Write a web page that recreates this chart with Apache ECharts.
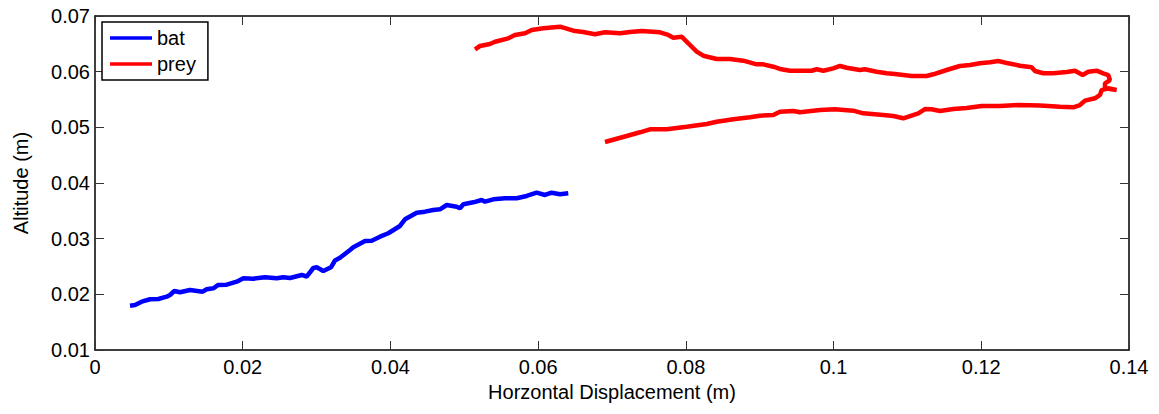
<!DOCTYPE html>
<html>
<head>
<meta charset="utf-8">
<script src="https://cdn.jsdelivr.net/npm/echarts@6/dist/echarts.min.js"></script>
<style>
  html, body { margin: 0; padding: 0; background: #fff; }
  #chart { width: 1159px; height: 414px; }
</style>
</head>
<body>
<div id="chart"></div>
<script>
// bat track (m)
var batX = [0.00474, 0.00542, 0.00632, 0.00745, 0.00857, 0.00971, 0.01015, 0.01074, 0.01151, 0.01286,
  0.01458, 0.01512, 0.01602, 0.01669, 0.01783, 0.01919, 0.02008, 0.02143, 0.02302, 0.0246,
  0.02549, 0.0264, 0.02799, 0.02866, 0.02956, 0.03002, 0.03091, 0.03195, 0.03249, 0.03317,
  0.03453, 0.03497, 0.03656, 0.03746, 0.03859, 0.03971, 0.04129, 0.04197, 0.04356, 0.04468,
  0.0458, 0.04671, 0.04762, 0.04897, 0.04942, 0.04987, 0.05122, 0.05236, 0.0528, 0.05393,
  0.05551, 0.0571, 0.05845, 0.0598, 0.06093, 0.06183, 0.06296, 0.06408];
var batY = [0.01796, 0.01809, 0.01868, 0.01911, 0.01917, 0.01958, 0.01988, 0.0206, 0.02037, 0.02078,
  0.02048, 0.02091, 0.02109, 0.02168, 0.02173, 0.02227, 0.02288, 0.02281, 0.02306, 0.02288,
  0.02306, 0.02294, 0.02348, 0.0232, 0.02473, 0.02486, 0.02419, 0.02486, 0.02608, 0.02657,
  0.02797, 0.02845, 0.02958, 0.02964, 0.03036, 0.03097, 0.03228, 0.03348, 0.03467, 0.03485,
  0.03515, 0.03527, 0.03605, 0.03575, 0.03546, 0.03618, 0.03653, 0.03695, 0.03664, 0.03707,
  0.03725, 0.03725, 0.03767, 0.03826, 0.03785, 0.03826, 0.03797, 0.03815];

// prey track (m): upper arm outwards, loop, lower arm back
var preyX = [0.05145, 0.05213, 0.05348, 0.05416, 0.05596, 0.05686, 0.05822, 0.05913, 0.0607, 0.06296,
  0.06476, 0.06611, 0.0677, 0.06905, 0.07108, 0.07243, 0.07402, 0.0765, 0.07762, 0.0783,
  0.07943, 0.08033, 0.08147, 0.08236, 0.08417, 0.08597, 0.08777, 0.08959, 0.09048, 0.09184,
  0.09274, 0.0941, 0.09703, 0.09771, 0.09861, 0.09996, 0.10087, 0.10177, 0.10357, 0.10425,
  0.10583, 0.10719, 0.10831, 0.11057, 0.1126, 0.1135, 0.11531, 0.11711, 0.11847, 0.11982,
  0.12118, 0.1223, 0.12365, 0.12524, 0.12682, 0.12727, 0.12839, 0.12975, 0.13156, 0.13268,
  0.13373, 0.13448, 0.13562, 0.13651, 0.13719, 0.13742, 0.13675, 0.13675, 0.13833, 0.13719,
  0.1363, 0.13607, 0.13539, 0.13404, 0.13336, 0.13245, 0.13065, 0.12794, 0.12501, 0.12253,
  0.12005, 0.11802, 0.11621, 0.1144, 0.11328, 0.11237, 0.11147, 0.10944, 0.10808, 0.10673,
  0.10402, 0.10267, 0.10019, 0.09816, 0.09545, 0.09454, 0.09274, 0.09184, 0.09003, 0.08868,
  0.08642, 0.08417, 0.08282, 0.08011, 0.0774, 0.07514, 0.07379, 0.07199, 0.06905];
var preyY = [0.06402, 0.06461, 0.06497, 0.06538, 0.06599, 0.06659, 0.06689, 0.06749, 0.06779, 0.06808,
  0.06736, 0.06713, 0.06671, 0.06707, 0.06689, 0.06713, 0.06731, 0.06707, 0.06659, 0.0661,
  0.06628, 0.0651, 0.06359, 0.06287, 0.06228, 0.06228, 0.06197, 0.06132, 0.06132, 0.06089,
  0.06048, 0.06017, 0.06017, 0.06043, 0.06017, 0.0606, 0.06102, 0.06071, 0.0603, 0.06043,
  0.05999, 0.05971, 0.05958, 0.05922, 0.05922, 0.05953, 0.0603, 0.06102, 0.0612, 0.0615,
  0.06168, 0.06192, 0.0615, 0.06107, 0.06078, 0.06012, 0.05971, 0.05971, 0.05994, 0.06017,
  0.0594, 0.05999, 0.06017, 0.05971, 0.0594, 0.0585, 0.05791, 0.05701, 0.05671, 0.05701,
  0.05671, 0.05581, 0.05522, 0.05479, 0.05401, 0.0536, 0.05371, 0.05392, 0.05401, 0.05383,
  0.05383, 0.05347, 0.05329, 0.05293, 0.05324, 0.05329, 0.05252, 0.05162, 0.05204, 0.05222,
  0.05252, 0.05299, 0.05324, 0.05311, 0.0527, 0.05294, 0.05281, 0.05222, 0.05209, 0.0518,
  0.05144, 0.05101, 0.0506, 0.05011, 0.04965, 0.04965, 0.04911, 0.04844, 0.04737];

var xTicks = { min: 0, max: 0.14, interval: 0.02 };
var yTicks = { min: 0.01, max: 0.07, interval: 0.01 };

function pairs(xs, ys) {
  return xs.map(function(x, i) { return [x, ys[i]]; });
}

var font = 'Arial, "Liberation Sans", sans-serif';
var fs = 20;
var axisLine = { show: true, onZero: false, lineStyle: { color: '#000', width: 1.5 } };
var tick = { show: true, inside: true, length: 9, lineStyle: { color: '#333', width: 1 } };

var chart = echarts.init(document.getElementById('chart'), null, { renderer: 'svg' });
chart.setOption({
  animation: false,
  backgroundColor: '#fff',
  textStyle: { fontFamily: font, color: '#000' },
  grid: { left: 95, right: 30, top: 16, bottom: 64, containLabel: false },
  legend: {
    orient: 'vertical',
    left: 102, top: 22,
    padding: [6, 12, 6, 8],
    itemGap: 6,
    itemWidth: 42, itemHeight: 3.5,
    icon: 'rect',
    borderColor: '#000', borderWidth: 1.5,
    backgroundColor: '#fff',
    textStyle: { fontFamily: font, fontSize: fs, lineHeight: 20, color: '#000' },
    data: ['bat', 'prey']
  },
  xAxis: [{
    type: 'value', position: 'bottom',
    min: xTicks.min, max: xTicks.max, interval: xTicks.interval,
    name: 'Horzontal Displacement (m)', nameLocation: 'middle', nameGap: 32,
    nameTextStyle: { fontFamily: font, fontSize: fs, color: '#000' },
    axisLine: axisLine, axisTick: tick,
    axisLabel: { fontFamily: font, fontSize: fs, color: '#000', margin: 7 },
    splitLine: { show: false }
  }, {
    type: 'value', position: 'top',
    min: xTicks.min, max: xTicks.max, interval: xTicks.interval,
    axisLine: axisLine, axisTick: tick,
    axisLabel: { show: false }, splitLine: { show: false }
  }],
  yAxis: [{
    type: 'value', position: 'left',
    min: yTicks.min, max: yTicks.max, interval: yTicks.interval,
    name: 'Altitude (m)', nameLocation: 'middle', nameGap: 64, nameRotate: 90,
    nameTextStyle: { fontFamily: font, fontSize: fs, color: '#000' },
    axisLine: axisLine, axisTick: tick,
    axisLabel: { fontFamily: font, fontSize: fs, color: '#000', margin: 5 },
    splitLine: { show: false }
  }, {
    type: 'value', position: 'right',
    min: yTicks.min, max: yTicks.max, interval: yTicks.interval,
    axisLine: axisLine, axisTick: tick,
    axisLabel: { show: false }, splitLine: { show: false }
  }],
  series: [{
    name: 'bat', type: 'line',
    xAxisIndex: 0, yAxisIndex: 0,
    showSymbol: false, symbol: 'none',
    color: '#0000ff',
    lineStyle: { color: '#0000ff', width: 4.5 },
    data: pairs(batX, batY)
  }, {
    name: 'prey', type: 'line',
    xAxisIndex: 0, yAxisIndex: 0,
    showSymbol: false, symbol: 'none',
    color: '#ff0000',
    lineStyle: { color: '#ff0000', width: 4.5 },
    data: pairs(preyX, preyY)
  }]
});
window.addEventListener('resize', function() { chart.resize(); });
</script>
</body>
</html>
